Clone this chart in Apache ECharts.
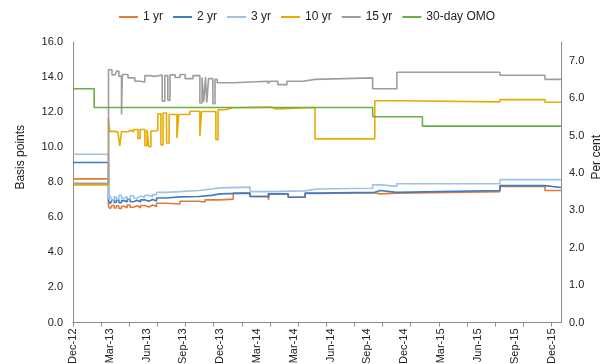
<!DOCTYPE html>
<html>
<head>
<meta charset="utf-8">
<script src="https://cdn.jsdelivr.net/npm/echarts@6/dist/echarts.min.js"></script>
<style>html,body{margin:0;padding:0;background:#fff}#c{width:604px;height:364px}</style>
</head>
<body>
<div id="c"></div>
<script>
// x values: days since 2012-12-01 (business-day style axis approximated)
const xLabels = ['Dec-12','Mar-13','Jun-13','Sep-13','Dec-13','Mar-14','Mar-14','Jun-14','Sep-14','Dec-14','Mar-15','Jun-15','Sep-15','Dec-15'];
const labelStep = 85;
const tickStep = 65;
const xMax = 1127;

const seriesNames = ['1 yr','2 yr','3 yr','10 yr','15 yr','30-day OMO'];

const yr1 = [[0,3.84],[82,3.10],[86,3.04],[90,3.13],[95,3.06],[100,3.12],[106,3.05],[112,3.11],[118,3.07],[125,3.14],[132,3.08],[140,3.12],[148,3.07],[156,3.13],[165,3.09],[175,3.14],[184,3.10],[193,3.19],[215,3.17],[247,3.24],[290,3.22],[305,3.28],[339,3.30],[370,3.46],[409,3.37],[451,3.28],[454,3.44],[497,3.35],[536,3.45],[563,3.47],[697,3.44],[709,3.46],[748,3.50],[986,3.64],[1090,3.53],[1127,3.53]];
const yr2 = [[0,4.28],[82,3.24],[86,3.18],[90,3.27],[95,3.21],[100,3.28],[106,3.20],[112,3.26],[118,3.22],[125,3.29],[132,3.23],[140,3.27],[148,3.22],[156,3.28],[165,3.24],[175,3.29],[184,3.25],[193,3.33],[215,3.36],[247,3.37],[290,3.40],[320,3.44],[339,3.46],[409,3.37],[451,3.44],[497,3.35],[536,3.46],[563,3.48],[697,3.53],[709,3.48],[748,3.53],[986,3.66],[1090,3.61],[1127,3.61]];
const yr3 = [[0,4.50],[82,3.30],[86,3.38],[90,3.28],[95,3.36],[100,3.30],[106,3.40],[112,3.32],[118,3.37],[125,3.31],[132,3.39],[140,3.33],[148,3.38],[156,3.34],[165,3.40],[175,3.36],[184,3.42],[193,3.48],[215,3.50],[247,3.53],[290,3.57],[320,3.60],[339,3.62],[409,3.50],[451,3.52],[536,3.57],[563,3.59],[692,3.68],[712,3.64],[748,3.71],[986,3.82],[1127,3.82]];
const yr10 = [[0,3.68],[82,5.47],[85,5.11],[97,5.09],[104,5.13],[108,4.72],[112,5.10],[127,5.14],[134,5.10],[140,5.16],[150,4.92],[155,5.16],[166,4.73],[171,5.15],[175,4.70],[180,5.12],[189,5.14],[196,5.58],[203,4.75],[208,5.60],[216,4.80],[222,5.56],[240,4.93],[244,5.56],[270,5.65],[293,4.98],[297,5.64],[330,4.89],[335,5.69],[351,5.74],[370,5.76],[455,5.71],[471,5.75],[559,4.91],[697,5.93],[751,5.90],[986,5.96],[1090,5.89],[1127,5.89]];
const yr15 = [[0,3.72],[82,6.76],[90,6.62],[97,6.64],[101,6.72],[106,6.58],[112,5.56],[114,6.63],[127,6.54],[143,6.45],[155,6.43],[166,6.60],[178,6.58],[189,6.62],[206,5.92],[212,6.60],[219,5.94],[224,6.62],[236,6.55],[247,6.63],[259,6.52],[277,6.60],[293,5.87],[298,6.55],[302,5.90],[306,6.56],[309,5.88],[313,6.52],[323,5.85],[328,6.50],[333,6.41],[370,6.45],[451,6.39],[455,6.45],[473,6.36],[494,6.45],[531,6.50],[559,6.54],[692,6.25],[748,6.69],[986,6.61],[1090,6.50],[1127,6.50]];
const omo = [[0,6.25],[49,5.75],[692,5.50],[807,5.25],[1127,5.25]];

const colors = ['#E37B35','#3F7DC3','#9DC3E6','#E9AB00','#9E9E9E','#6BAE45'];

const labelVals = xLabels.map((_, i) => i * labelStep);
const tickVals = [];
for (let v = 0; v <= xMax; v += tickStep) tickVals.push(v);

const chart = echarts.init(document.getElementById('c'), null, {renderer: 'canvas'});
const font = 'Liberation Sans, Arial, sans-serif';
const allData = [yr1, yr2, yr3, yr10, yr15, omo];

chart.setOption({
  animation: false,
  textStyle: {fontFamily: font},
  color: colors,
  legend: {
    top: 6, left: 114,
    itemWidth: 19, itemHeight: 2, itemGap: 10,
    icon: 'rect',
    textStyle: {fontFamily: font, fontSize: 12, color: '#222'},
    data: seriesNames
  },
  grid: {left: 73, right: 43, top: 42, bottom: 41.5, containLabel: false, outerBoundsMode: 'none'},
  xAxis: {
    type: 'value', min: 0, max: xMax,
    axisLine: {show: true, lineStyle: {color: '#8c8c8c', width: 1}},
    axisTick: {show: true, length: 4, lineStyle: {color: '#8c8c8c'}, customValues: tickVals},
    axisLabel: {
      rotate: 90, margin: 6, fontSize: 11, color: '#222', fontFamily: font,
      customValues: labelVals,
      formatter: (v) => { const k = Math.round(v / labelStep); return xLabels[k] || ''; }
    },
    splitLine: {show: false}
  },
  yAxis: [
    {
      type: 'value', min: 0, max: 16, interval: 2,
      name: 'Basis points', nameLocation: 'middle', nameGap: 46, nameRotate: 90, nameMoveOverlap: false,
      nameTextStyle: {fontSize: 12, color: '#222', fontFamily: font, padding: [0, 0, 0, 50]},
      axisLine: {show: true, lineStyle: {color: '#8c8c8c'}},
      axisTick: {show: false},
      axisLabel: {fontSize: 11, color: '#222', margin: 10, formatter: v => v.toFixed(1)},
      splitLine: {show: false}
    },
    {
      type: 'value', min: 0, max: 7.5, interval: 1, position: 'right',
      name: 'Per cent', nameLocation: 'middle', nameGap: 30, nameRotate: 90, nameMoveOverlap: false,
      nameTextStyle: {fontSize: 12, color: '#222', fontFamily: font, padding: [0, 0, 0, 50]},
      axisLine: {show: true, lineStyle: {color: '#8c8c8c'}},
      axisTick: {show: false},
      axisLabel: {fontSize: 11, color: '#222', margin: 8, showMaxLabel: false,
        formatter: v => (Math.abs(v - Math.round(v)) < 1e-9 ? v.toFixed(1) : '')},
      splitLine: {show: false}
    }
  ],
  series: seriesNames.map((n, i) => ({
    name: n, type: 'line', yAxisIndex: 1, step: 'end', showSymbol: false, symbol: 'none',
    data: allData[i],
    lineStyle: {width: 1.6, color: colors[i]},
    z: i === 5 ? 3 : 2
  }))
});
</script>
</body>
</html>
